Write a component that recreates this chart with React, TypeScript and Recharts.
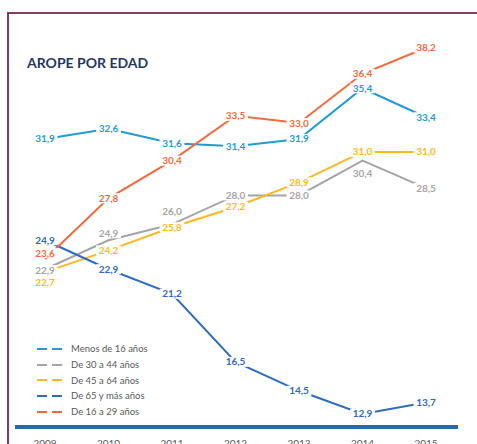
import React from 'react';
import { LineChart, Line, XAxis, YAxis } from 'recharts';

const years = ['2009', '2010', '2011', '2012', '2013', '2014', '2015'];
const menos16 = [31.9, 32.6, 31.6, 31.4, 31.9, 35.4, 33.4];
const de30a44 = [22.9, 24.9, 26.0, 28.0, 28.0, 30.4, 28.5];
const de45a64 = [22.7, 24.2, 25.8, 27.2, 28.9, 31.0, 31.0];
const de65mas = [24.9, 22.9, 21.2, 16.5, 14.5, 12.9, 13.7];
const de16a29 = [23.6, 27.8, 30.4, 33.5, 33.0, 36.4, 38.2];

const series = [
  { key: 'menos16', name: 'Menos de 16 años', color: '#1f9bd7', values: menos16 },
  { key: 'de30a44', name: 'De 30 a 44 años', color: '#a5a5a5', values: de30a44 },
  { key: 'de45a64', name: 'De 45 a 64 años', color: '#ffb81c', values: de45a64 },
  { key: 'de65mas', name: 'De 65 y más años', color: '#2e6cc0', values: de65mas },
  { key: 'de16a29', name: 'De 16 a 29 años', color: '#f26a3b', values: de16a29 },
];

const data = years.map((year, i) => {
  const row: Record<string, string | number> = { year };
  series.forEach(s => { row[s.key] = s.values[i]; });
  return row;
});

// some labels sit a bit off the line in the original
const labelShift: Record<string, number[]> = {
  de30a44: [1, -7, -13, 0, 0, 13, 0],
  de45a64: [10, 0, 0, 0, 0, 0, 0],
  de16a29: [-6, 0, 0, 0, 0, 0, 0],
};

const makeLabel = (key: string, color: string) => (props: any) => {
  const { x, y, value, index } = props;
  if (value == null) return null;
  const dy = labelShift[key]?.[index] ?? 0;
  const text = Number(value).toFixed(1).replace('.', ',');
  const w = text.length * 5.2 + 4;
  return (
    <g key={`${key}-${index}`}>
      <rect x={x - w / 2} y={y + dy - 5} width={w} height={10} fill="#fff" />
      <text x={x} y={y + dy} dy="0.35em" textAnchor="middle" fill={color} fontSize={10} fontWeight={700} fontFamily="Lato">
        {text}
      </text>
    </g>
  );
};

const YearTick = (props: any) => {
  const { x, y, payload } = props;
  return (
    <text x={x} y={y + 12} textAnchor="middle" fill="#595959" fontSize={10} fontFamily="Lato">
      {payload.value}
    </text>
  );
};

const LegendBox = () => (
  <div style={{ position: 'absolute', left: 37, top: 341, fontFamily: 'Lato', fontSize: 9.5, color: '#595959' }}>
    {series.map(s => (
      <div key={s.key} style={{ display: 'flex', alignItems: 'center', height: 15.7 }}>
        <svg width={25} height={4} style={{ marginRight: 9 }}>
          <line x1={0} y1={2} x2={25} y2={2} stroke={s.color} strokeWidth={2} strokeDasharray="10 5" />
        </svg>
        <span>{s.name}</span>
      </div>
    ))}
  </div>
);

const App: React.FC = () => {
  return (
    <div style={{ position: 'absolute', left: 0, top: 0, width: 477, height: 444, overflow: 'hidden', background: '#fff' }}>
      <div style={{ position: 'absolute', left: 7, top: 12, width: 470, height: 440, borderTop: '2px solid #8a3a5c', borderLeft: '2px solid #8a3a5c' }} />
      <div style={{ position: 'absolute', left: 27, top: 54, fontFamily: 'Lato', fontWeight: 700, fontSize: 14, color: '#1f3864' }}>
        AROPE POR EDAD
      </div>
      <LineChart width={477} height={444} data={data} margin={{ top: 13, right: 19, bottom: 0, left: 15 }} style={{ position: 'absolute', left: 0, top: 0 }}>
        <XAxis
          dataKey="year"
          padding={{ left: 30, right: 32 }}
          axisLine={{ stroke: '#1f6cb0', strokeWidth: 4 }}
          tickLine={false}
          tick={<YearTick />}
          height={17}
          interval={0}
        />
        <YAxis hide domain={[12, 40.6]} />
        {series.map(s => (
          <Line
            key={s.key}
            dataKey={s.key}
            name={s.name}
            stroke={s.color}
            strokeWidth={2}
            dot={false}
            isAnimationActive={false}
            label={makeLabel(s.key, s.color)}
          />
        ))}
      </LineChart>
      <LegendBox />
    </div>
  );
};

export default App;
